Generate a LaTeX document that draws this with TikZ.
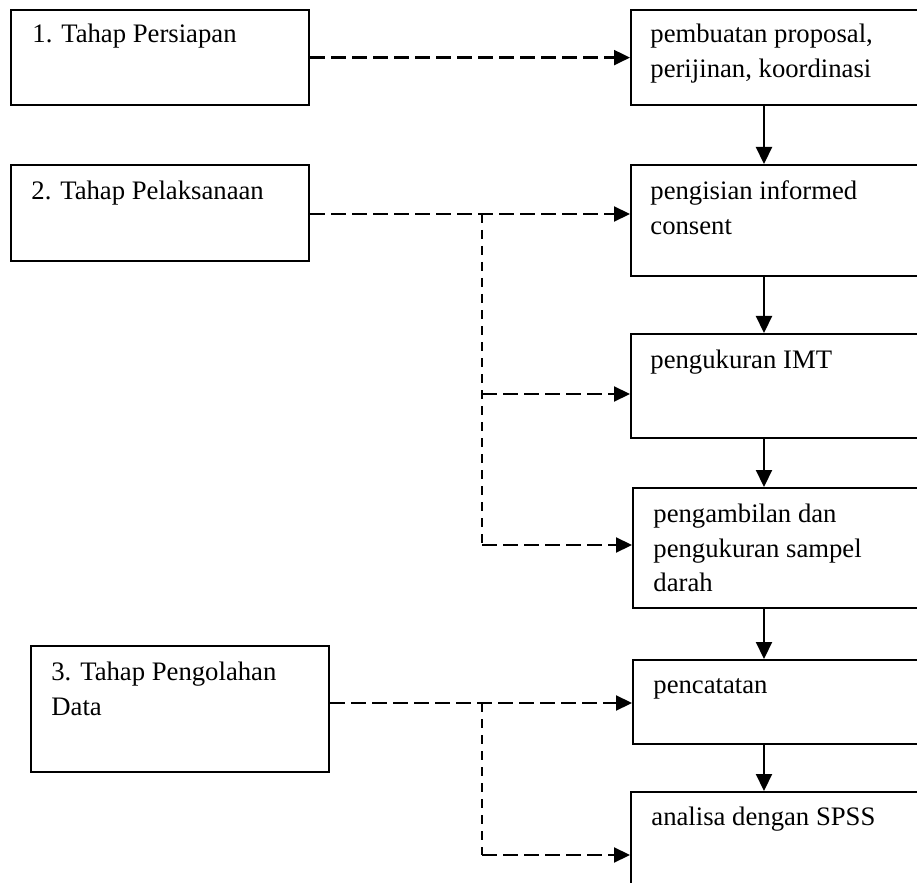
\documentclass[tikz,border=0pt]{standalone}
\usepackage{fontspec}
\setmainfont{Liberation Serif}
\usetikzlibrary{arrows.meta}
\begin{document}
\begin{tikzpicture}[x=0.5pt,y=-0.5pt,
  boxnode/.style={draw, line width=1.1pt, rectangle, anchor=north west, inner sep=0pt},
  txt/.style={anchor=base west, inner sep=0pt, font=\fontsize{13.35}{17.5}\selectfont},
  solidarrow/.style={line width=1.1pt, -{Triangle[length=8.5pt,width=8pt]}},
  hdash/.style={line width=1.1pt, dash pattern=on 7.5pt off 3pt, -{Triangle[length=8pt,width=7.5pt]}},
  vdash/.style={line width=0.8pt, dash pattern=on 4.5pt off 3.5pt}]
\useasboundingbox (0,0) rectangle (917,883);
\clip (0,0) rectangle (917,883);

% left boxes
\node[boxnode, minimum width=149pt, minimum height=47.5pt] (b1) at (10,9) {};
\node[boxnode, minimum width=149pt, minimum height=48pt] (b2) at (10,164) {};
\node[boxnode, minimum width=149pt, minimum height=63pt] (b3) at (30,645) {};

% right boxes
\node[boxnode, minimum width=185pt, minimum height=47.5pt] (bA) at (630,9) {};
\node[boxnode, minimum width=185pt, minimum height=55.5pt] (bB) at (630,164) {};
\node[boxnode, minimum width=185pt, minimum height=52pt] (bC) at (630,333) {};
\node[boxnode, minimum width=185pt, minimum height=60pt] (bD) at (632,487) {};
\node[boxnode, minimum width=185pt, minimum height=42pt] (bE) at (632,659) {};
\node[boxnode, minimum width=185pt, minimum height=84.5pt] (bF) at (630,791) {};

% texts
\node[txt] (t1) at (32,43) {1. Tahap Persiapan};
\node[txt] (t2) at (31,200) {2. Tahap Pelaksanaan};
\node[txt] (t3) at (51,680) {\begin{tabular}[t]{@{}l@{}}3. Tahap Pengolahan\\ Data\end{tabular}};
\node[txt] (tA) at (650,43) {\begin{tabular}[t]{@{}l@{}}pembuatan proposal,\\ perijinan, koordinasi\end{tabular}};
\node[txt] (tB) at (650,199) {\begin{tabular}[t]{@{}l@{}}pengisian informed\\ consent\end{tabular}};
\node[txt] (tC) at (650,368) {pengukuran IMT};
\node[txt] (tD) at (653,522) {\begin{tabular}[t]{@{}l@{}}pengambilan dan\\ pengukuran sampel\\ darah\end{tabular}};
\node[txt] (tE) at (653,693) {pencatatan};
\node[txt] (tF) at (651,825) {analisa dengan SPSS};

% helper coordinates
\coordinate (col) at (764,0);
\coordinate (y2) at (0,214);
\coordinate (yC) at (0,394);
\coordinate (yD) at (0,545);
\coordinate (y3) at (0,703);
\coordinate (yF) at (0,855);
\coordinate (j2) at (482,214);
\coordinate (j2c) at (482,394);
\coordinate (j2d) at (482,545);
\coordinate (j3) at (482,703);
\coordinate (j3f) at (482,855);

% solid vertical arrows
\draw[solidarrow] (bA.south -| col) -- (bB.north -| col);
\draw[solidarrow] (bB.south -| col) -- (bC.north -| col);
\draw[solidarrow] (bC.south -| col) -- (bD.north -| col);
\draw[solidarrow] (bD.south -| col) -- (bE.north -| col);
\draw[solidarrow] (bE.south -| col) -- (bF.north -| col);

% dashed connectors
\draw[hdash] (b1.east |- bA.west) -- (bA.west);
\draw[hdash] (b2.east |- y2) -- (bB.west |- y2);
\draw[vdash] (j2) -- (j2d);
\draw[hdash] (j2c) -- (bC.west |- yC);
\draw[hdash] (j2d) -- (bD.west |- yD);
\draw[hdash] (b3.east |- y3) -- (bE.west |- y3);
\draw[vdash] (j3) -- (j3f);
\draw[hdash] (j3f) -- (bF.west |- yF);
\end{tikzpicture}
\end{document}
